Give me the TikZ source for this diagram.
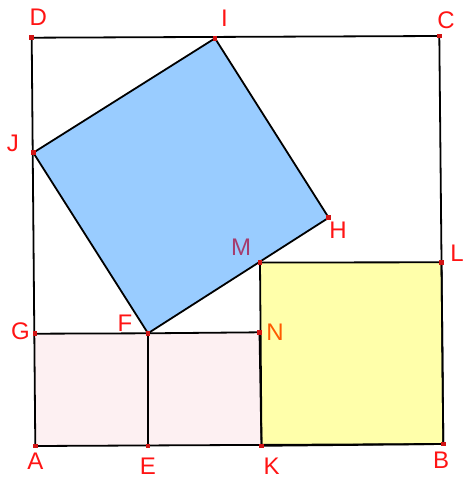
\documentclass[tikz,border=0pt]{standalone}
\usepackage{fontspec}
\setmainfont{Liberation Sans}
\definecolor{lblred}{RGB}{255,20,20}
\definecolor{lblM}{RGB}{165,60,110}
\definecolor{lblN}{RGB}{255,90,0}
\definecolor{bluefill}{RGB}{153,204,255}
\definecolor{yellowfill}{RGB}{255,255,170}
\definecolor{pinkfill}{RGB}{253,240,242}
\definecolor{ptred}{RGB}{210,20,20}
\begin{document}
\begin{tikzpicture}[x=1pt,y=-1pt,
  seg/.style={black,line width=1.8pt,line join=round},
  lbl/.style={text=lblred,font=\fontsize{24}{24}\selectfont,inner sep=0pt},
  pt/.style={fill=ptred,minimum size=4.5pt,inner sep=0pt,draw=none,rectangle}]
\useasboundingbox (0,0) rectangle (463,479);
% points
\coordinate (A) at (35.3,446);
\coordinate (B) at (443.3,444);
\coordinate (C) at (439.3,36);
\coordinate (D) at (31.7,37.7);
\coordinate (I) at (215,38.3);
\coordinate (J) at (33.3,152.7);
\coordinate (H) at (328.7,217.7);
\coordinate (F) at (148,333.3);
\coordinate (G) at (35,333.7);
\coordinate (E) at (148,446);
\coordinate (K) at (261.5,445.8);
\coordinate (N) at (259.5,332.3);
\coordinate (M) at (260,262.5);
\coordinate (L) at (441.5,262.3);
% fills
\fill[pinkfill] (A) -- (K) -- (N) -- (G) -- cycle;
\fill[yellowfill] (K) -- (B) -- (L) -- (M) -- cycle;
\fill[bluefill] (J) -- (I) -- (H) -- (F) -- cycle;
% lines
\draw[seg] (A) -- (B) -- (C) -- (D) -- cycle;
\draw[seg] (J) -- (I) -- (H) -- (F) -- cycle;
\draw[seg] (K) -- (B) -- (L) -- (M) -- cycle;
\draw[seg] (G) -- (F) -- (N) -- (K);
\draw[seg] (E) -- (F);
% point markers
\foreach \p in {A,B,C,D,I,J,H,F,G,E,K,N,M,L}
  \node[pt] (pt\p) at (\p) {};
% labels
\node[lbl] (lD) at (38.3,17.2) {D};
\node[lbl] (lI) at (224.5,18) {I};
\node[lbl] (lC) at (446,20) {C};
\node[lbl] (lJ) at (12.8,143) {J};
\node[lbl] (lH) at (338,230) {H};
\node[lbl,text=lblM] (lM) at (241,247.5) {M};
\node[lbl] (lL) at (457,253) {L};
\node[lbl] (lG) at (20.5,330.8) {G};
\node[lbl] (lF) at (125,323) {F};
\node[lbl,text=lblN] (lN) at (275,332.5) {N};
\node[lbl] (lA) at (35.3,461.7) {A};
\node[lbl] (lE) at (148,466.5) {E};
\node[lbl] (lK) at (271.7,466.5) {K};
\node[lbl] (lB) at (441,460.5) {B};
\end{tikzpicture}
\end{document}
